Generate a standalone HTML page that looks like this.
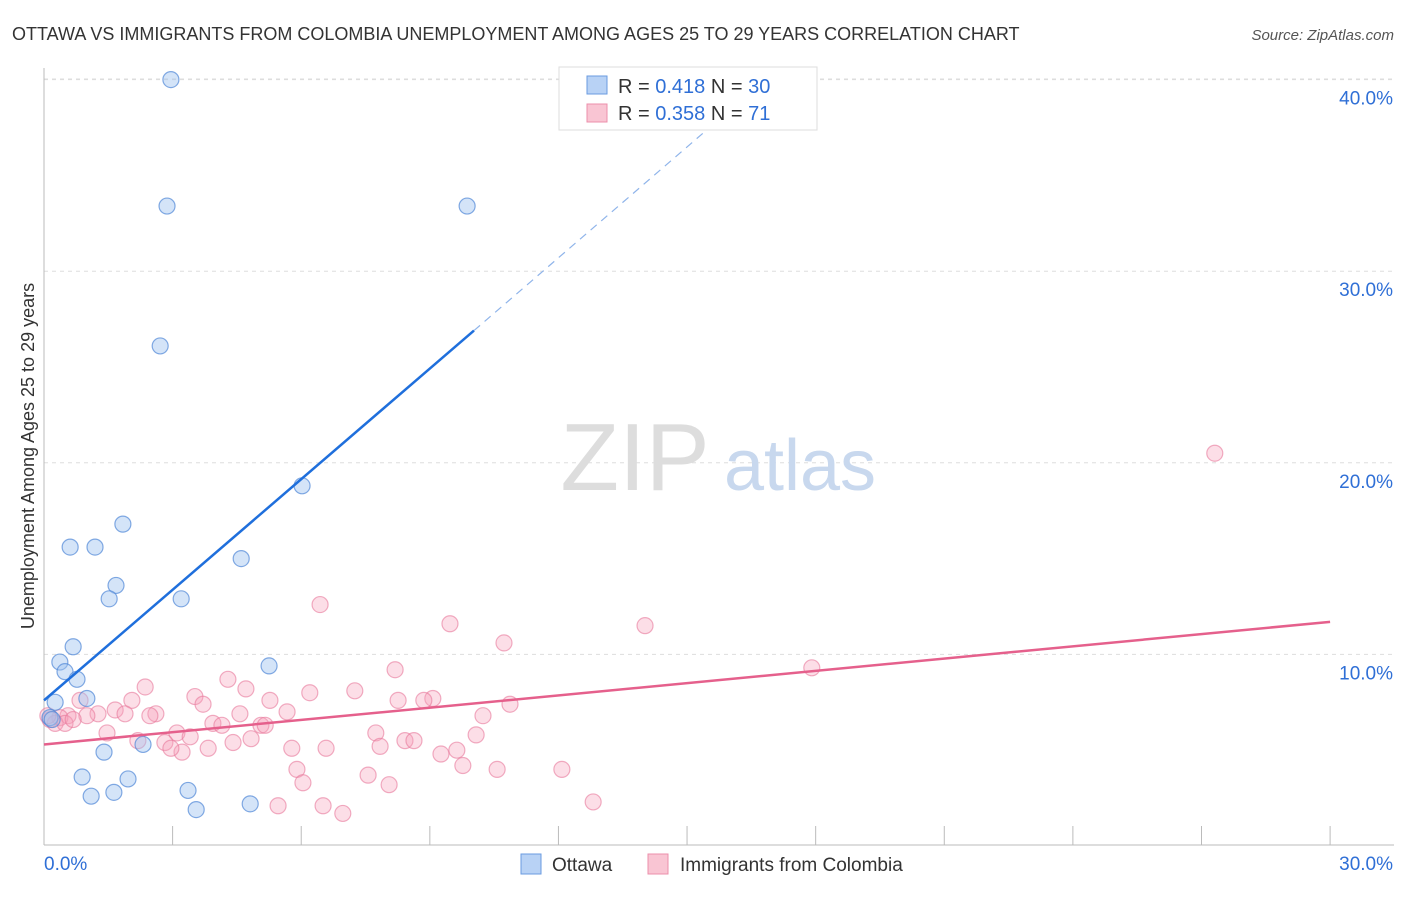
<!DOCTYPE html>
<html><head><meta charset="utf-8"><style>
body{margin:0;background:#fff;font-family:"Liberation Sans",sans-serif;}
svg text{font-family:"Liberation Sans",sans-serif;}
</style></head><body>
<svg id="chart" width="1406" height="892" xmlns="http://www.w3.org/2000/svg">
<text x="12" y="40" font-size="18" fill="#333">OTTAWA VS IMMIGRANTS FROM COLOMBIA UNEMPLOYMENT AMONG AGES 25 TO 29 YEARS CORRELATION CHART</text>
<text x="1394" y="40" font-size="15" fill="#555" font-style="italic" text-anchor="end">Source: ZipAtlas.com</text>
<g id="grid"></g>
<g id="axes"></g>
<text x="635" y="490" font-size="96" font-family="Liberation Serif" fill="#ddd" text-anchor="middle">ZIP</text>
<text x="800" y="490" font-size="72" fill="#c8d8ee" text-anchor="middle">atlas</text>
<g id="pts"></g>
<g id="lines"></g>
<text transform="translate(34,456) rotate(-90)" font-size="18" fill="#333" text-anchor="middle">Unemployment Among Ages 25 to 29 years</text>
<g>
<rect x="559" y="67" width="258" height="63" fill="#fff" stroke="#ddd"/>
<rect x="587" y="76" width="20" height="18" fill="#b8d2f5" stroke="#6a9be0"/>
<rect x="587" y="104" width="20" height="18" fill="#f9c5d3" stroke="#ec8fab"/>
<text x="618" y="93" font-size="20" fill="#333">R = <tspan fill="#2f6fd6">0.418</tspan>   N = <tspan fill="#2f6fd6">30</tspan></text>
<text x="618" y="120" font-size="20" fill="#333">R = <tspan fill="#2f6fd6">0.358</tspan>   N = <tspan fill="#2f6fd6"> 71</tspan></text>
</g>
<g>
<rect x="521" y="854" width="20" height="20" fill="#b8d2f5" stroke="#6a9be0"/>
<text x="552" y="871" font-size="19" fill="#333">Ottawa</text>
<rect x="648" y="854" width="20" height="20" fill="#f9c5d3" stroke="#ec8fab"/>
<text x="680" y="871" font-size="19" fill="#333">Immigrants from Colombia</text>
</g>
</svg>
<script>
const ottawaX=[2.96,2.87,9.87,2.71,6.02,1.84,0.61,1.19,4.60,1.68,1.52,3.20,0.68,0.37,5.25,0.49,0.77,1.00,0.26,0.14,0.19,1.40,2.31,0.89,1.96,1.10,1.63,3.36,3.55,4.81];
const ottawaY=[40.0,33.4,33.4,26.1,18.8,16.8,15.6,15.6,15.0,13.6,12.9,12.9,10.4,9.6,9.4,9.1,8.7,7.7,7.5,6.7,6.6,4.9,5.3,3.6,3.5,2.6,2.8,2.9,1.9,2.2];
const colPx=[[1172,453],[320,606],[450,625],[645,627],[504,643],[812,669],[395,671],[228,679],[145,687],[246,689],[310,692],[355,690],[195,695],[433,698],[424,700],[398,700],[270,699],[510,703],[80,700],[132,699],[156,712],[203,703],[483,713],[287,710],[115,709],[125,712],[98,712],[68,716],[60,717],[50,720],[55,724],[87,715],[150,714],[240,713],[213,721],[222,723],[261,723],[265,722],[107,733],[177,733],[190,736],[376,732],[476,735],[138,741],[165,742],[233,742],[251,738],[405,740],[414,740],[380,747],[292,749],[326,748],[182,751],[208,748],[171,748],[457,749],[441,753],[463,765],[497,768],[297,770],[562,771],[368,776],[303,782],[389,784],[593,801],[278,805],[323,806],[343,813],[65,723],[73,720],[48,716]];
const colombiaX=[27.31,6.44,9.47,14.02,10.73,17.91,8.19,4.29,2.36,4.71,6.20,7.25,3.52,9.07,8.86,8.26,5.27,10.87,0.84,2.05,2.61,3.71,10.24,5.67,1.66,1.89,1.26,0.56,0.37,0.14,0.26,1.00,2.47,4.57,3.94,4.15,5.06,5.16,1.47,3.10,3.41,7.74,10.08,2.19,2.82,4.41,4.83,8.42,8.63,7.84,5.78,6.58,3.22,3.83,2.96,9.63,9.26,9.77,10.57,5.90,12.08,7.56,6.04,8.05,12.81,5.46,6.51,6.97,0.49,0.68,0.09];
const colombiaY=[20.5,12.6,11.6,11.5,10.6,9.3,9.2,8.7,8.3,8.2,8.0,8.1,7.8,7.7,7.6,7.6,7.6,7.4,7.6,7.6,6.9,7.4,6.8,7.0,7.1,6.9,6.9,6.8,6.7,6.6,6.4,6.8,6.8,6.9,6.4,6.3,6.3,6.3,5.9,5.9,5.7,5.9,5.8,5.5,5.4,5.4,5.6,5.5,5.5,5.2,5.1,5.1,4.9,5.1,5.1,5.0,4.8,4.2,4.0,4.0,4.0,3.7,3.3,3.2,2.3,2.1,2.1,1.7,6.4,6.6,6.8];
const xTicks=[0,3,6,9,12,15,18,21,24,27,30];
const yTicks=[10,20,30,40];
const ottawaTrend=[[0,7.6],[10.03,26.9]];
const ottawaDash=[[10.03,26.9],[16.2,38.8]];
const colombiaTrend=[[0,5.3],[30,11.7]];
const X=v=>44+v*42.87, Y=v=>846-v*19.16;
const NS='http://www.w3.org/2000/svg';
function mk(t,a,p){const e=document.createElementNS(NS,t);for(const k in a)e.setAttribute(k,a[k]);p.appendChild(e);return e;}
const grid=document.getElementById('grid'),axes=document.getElementById('axes');
yTicks.forEach(v=>{
 const l=mk('line',{x1:44,x2:1394,y1:Y(v),y2:Y(v),stroke:'#ddd','stroke-dasharray':'4,4'},grid);
 
 
 const t=mk('text',{x:1393,y:Y(v)+25,'font-size':19,fill:'#2f6fd6','text-anchor':'end'},axes);t.textContent=v.toFixed(1)+'%';
 
 
});
const gt=mk('line',{x1:44,x2:1394,y1:79,y2:79,stroke:'#ddd','stroke-dasharray':'4,4'},grid);


const ax=mk('line',{x1:44,x2:1394,y1:845,y2:845,stroke:'#bbb'},axes);


const ay=mk('line',{x1:44,x2:44,y1:68,y2:845,stroke:'#bbb'},axes);


xTicks.forEach((v,i)=>{
 const l=mk('line',{x1:X(v),x2:X(v),y1:826,y2:845,stroke:'#bbb'},axes);
 
 
});
[[0,'start'],[30,'end']].forEach(([v,a])=>{
 const t=mk('text',{x:v?1393:44,y:870,'font-size':19,fill:'#2f6fd6','text-anchor':a},axes);t.textContent=v.toFixed(1)+'%';
 
 
});
const pts=document.getElementById('pts');
colombiaX.forEach((x,i)=>{
 const c=mk('circle',{cx:X(x),cy:Y(colombiaY[i]),r:8,fill:'rgba(245,160,185,0.35)',stroke:'rgba(232,120,155,0.6)','stroke-width':1.2},pts);
 
 
});
ottawaX.forEach((x,i)=>{
 const c=mk('circle',{cx:X(x),cy:Y(ottawaY[i]),r:8,fill:'rgba(160,195,240,0.45)',stroke:'rgba(80,135,215,0.7)','stroke-width':1.2},pts);
 
 
});
const lines=document.getElementById('lines');
const l1=mk('line',{x1:X(ottawaTrend[0][0]),y1:Y(ottawaTrend[0][1]),x2:X(ottawaTrend[1][0]),y2:Y(ottawaTrend[1][1]),stroke:'#1f6fdc','stroke-width':2.5},lines);


const l2=mk('line',{x1:X(ottawaDash[0][0]),y1:Y(ottawaDash[0][1]),x2:X(ottawaDash[1][0]),y2:Y(ottawaDash[1][1]),stroke:'#8fb4ea','stroke-width':1.2,'stroke-dasharray':'8,6'},lines);


const l3=mk('line',{x1:X(colombiaTrend[0][0]),y1:Y(colombiaTrend[0][1]),x2:X(colombiaTrend[1][0]),y2:Y(colombiaTrend[1][1]),stroke:'#e5608c','stroke-width':2.5},lines);


</script>
</body></html>
